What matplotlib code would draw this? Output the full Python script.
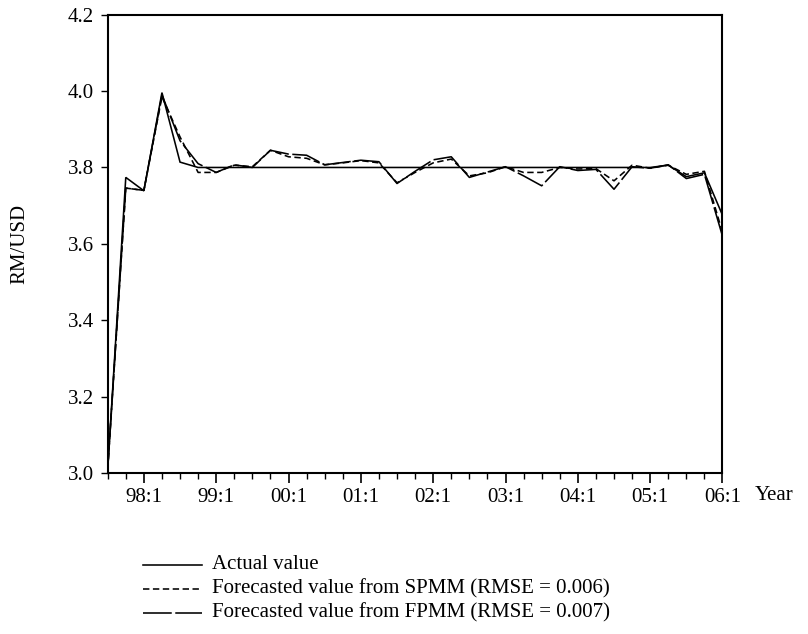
import matplotlib
matplotlib.use("Agg")
import matplotlib.pyplot as plt
from matplotlib.lines import Line2D
from matplotlib.ticker import FixedLocator

# quarterly periods 97:3 ... 06:1
periods = ["97:3", "97:4",
           "98:1", "98:2", "98:3", "98:4",
           "99:1", "99:2", "99:3", "99:4",
           "00:1", "00:2", "00:3", "00:4",
           "01:1", "01:2", "01:3", "01:4",
           "02:1", "02:2", "02:3", "02:4",
           "03:1", "03:2", "03:3", "03:4",
           "04:1", "04:2", "04:3", "04:4",
           "05:1", "05:2", "05:3", "05:4",
           "06:1"]

actual = [3.01, 3.774, 3.739, 3.996, 3.814, 3.800,
          3.800, 3.800, 3.800, 3.800, 3.800, 3.800, 3.800, 3.800,
          3.800, 3.800, 3.800, 3.800, 3.800, 3.800, 3.800, 3.800,
          3.800, 3.800, 3.800, 3.800, 3.800, 3.800, 3.800, 3.800,
          3.800, 3.806, 3.776, 3.786, 3.675]

spmm = [3.01, 3.746, 3.740, 3.985, 3.880, 3.787,
        3.787, 3.806, 3.802, 3.845, 3.828, 3.824, 3.807, 3.812,
        3.818, 3.812, 3.760, 3.787, 3.812, 3.822, 3.778, 3.786,
        3.802, 3.787, 3.787, 3.800, 3.796, 3.797, 3.765, 3.806,
        3.798, 3.806, 3.782, 3.790, 3.630]

fpmm = [3.01, 3.746, 3.740, 3.990, 3.870, 3.810,
        3.787, 3.807, 3.800, 3.845, 3.835, 3.832, 3.807, 3.813,
        3.819, 3.815, 3.758, 3.790, 3.820, 3.828, 3.774, 3.788,
        3.802, 3.778, 3.752, 3.802, 3.792, 3.795, 3.743, 3.802,
        3.798, 3.807, 3.771, 3.782, 3.620]

year_labels = ["98:1", "99:1", "00:1", "01:1", "02:1", "03:1", "04:1", "05:1", "06:1"]
y_ticks = [3.0, 3.2, 3.4, 3.6, 3.8, 4.0, 4.2]

legend_labels = ["Actual value",
                 "Forecasted value from SPMM (RMSE = 0.006)",
                 "Forecasted value from FPMM (RMSE = 0.007)"]

plt.rcParams['font.family'] = ['Liberation Serif', 'DejaVu Serif']
FS = 15

W, H = 808, 634
fig = plt.figure(figsize=(W / 100, H / 100), dpi=100)
ax = fig.add_axes([107.7 / W, 1 - 473 / H, (722.5 - 107.7) / W, (473 - 14.7) / H])

x = list(range(len(periods)))
lw = 1.15
ax.plot(x, actual, color='black', lw=lw, solid_joinstyle='miter')
ax.plot(x, spmm, color='black', lw=lw, dashes=(4, 2.2))
ax.plot(x, fpmm, color='black', lw=lw, dashes=(18, 2.2))

ax.set_xlim(0, len(periods) - 1)
ax.set_ylim(3.0, 4.2)

major_pos = [periods.index(l) for l in year_labels]
ax.xaxis.set_major_locator(FixedLocator(major_pos))
ax.set_xticklabels(year_labels)
ax.xaxis.set_minor_locator(FixedLocator(x))
ax.set_yticks(y_ticks)
ax.set_yticklabels([f"{v:.1f}" for v in y_ticks])

ax.tick_params(axis='x', which='major', direction='out', length=7.5, width=1.2,
               labelsize=FS, pad=3)
ax.tick_params(axis='x', which='minor', direction='out', length=4.2, width=1.0)
ax.tick_params(axis='y', which='major', direction='out', length=5, width=1.0,
               labelsize=FS, pad=5)
for s in ax.spines.values():
    s.set_linewidth(1.5)

ax.set_ylabel("RM/USD", fontsize=FS)
ax.yaxis.set_label_coords(-(107.7 - 29) / (722.5 - 107.7), 0.5)
fig.text(755 / W, 1 - 496 / H, "Year", fontsize=FS, va='center', ha='left')

# legend drawn manually below the plot
rows_y = [564.5, 588.5, 612.7]
styles = [dict(), dict(dashes=(4, 2.2)), dict(dashes=(18, 2.2))]
for yy, lab, st in zip(rows_y, legend_labels, styles):
    fy = 1 - yy / H
    fig.add_artist(Line2D([143 / W, 202 / W], [fy, fy], transform=fig.transFigure,
                          color='black', lw=lw, **st))
    fig.text(211.5 / W, fy, lab, fontsize=FS, va='center', ha='left')

fig.savefig("out.png", dpi=100)
